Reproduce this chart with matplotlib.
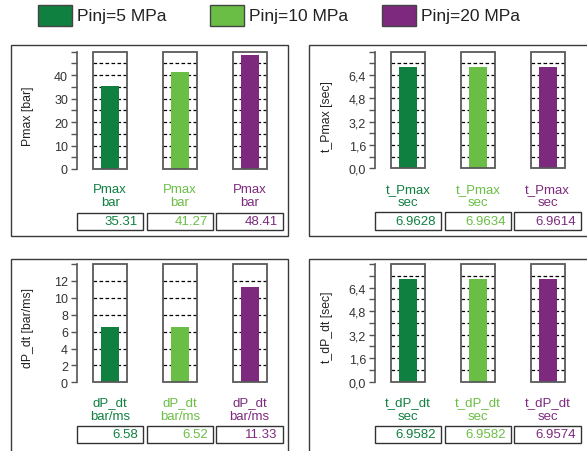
import matplotlib.pyplot as plt
import numpy as np
from matplotlib.patches import Rectangle
from matplotlib.ticker import MultipleLocator, FuncFormatter
import matplotlib.transforms as mtransforms

plt.rcParams['font.family'] = ['Liberation Sans', 'DejaVu Sans']

series = ['Pinj=5 MPa', 'Pinj=10 MPa', 'Pinj=20 MPa']
colors = ['#108040', '#6bbe45', '#7d2a7e']

names = ['Pmax', 't_Pmax', 'dP_dt', 't_dP_dt']
units = ['bar', 'sec', 'bar/ms', 'sec']
pmax = [35.31, 41.27, 48.41]
t_pmax = [6.9628, 6.9634, 6.9614]
dp_dt = [6.58, 6.52, 11.33]
t_dp_dt = [6.9582, 6.9582, 6.9574]
values = [pmax, t_pmax, dp_dt, t_dp_dt]
val_fmt = ['{:.2f}', '{:.4f}', '{:.2f}', '{:.4f}']

# y axis setup: top, major step, minor step
ytop = [50, 8, 14, 8]
ymajor = [10, 1.6, 2, 1.6]
yminor = [5, 0.8, None, 0.8]

W, H = 587, 452
fig = plt.figure(figsize=(W / 100, H / 100), dpi=100)


def fx(px):
    return px / W


def fy(py):
    return 1 - py / H


# panel frames (px): x0, y0, x1, y1
frames = [(11, 46, 288, 237), (309, 46, 590, 237), (11, 260, 288, 455), (309, 260, 590, 455)]
for x0, y0, x1, y1 in frames:
    fig.add_artist(Rectangle((fx(x0), fy(y1)), fx(x1 - x0), fy(y0) - fy(y1),
                             transform=fig.transFigure, fill=False, ec='#3a3a3a', lw=1.0))

# axes rectangles (px): left, top, right, bottom
axes_px = [(77, 52.7, 272, 170), (375, 52.7, 570, 169.3), (77, 265, 272, 383.3), (375, 265, 570, 382.7)]
label_y = [(190, 203.3), (190, 203.3), (403.3, 416.7), (403.3, 416.7)]
vbox_y = [(214, 231), (213, 231), (427, 444), (427, 444)]
ylabel_pos = [(28, 116.7), (326.7, 116.7), (28, 328), (326.7, 327)]

x = np.arange(3)
box_w = 0.486
bar_w = 0.262

for k in range(4):
    l, t, r, b = axes_px[k]
    ax = fig.add_axes([fx(l), fy(b), fx(r - l), fy(t) - fy(b)])
    ax.patch.set_alpha(0)
    ax.set_xlim(-0.475, 2.32)
    ax.set_ylim(0, ytop[k])
    for s in ['top', 'right', 'bottom']:
        ax.spines[s].set_visible(False)
    ax.spines['left'].set_color('#555555')
    ax.spines['left'].set_linewidth(1.2)
    ax.set_xticks([])

    major = np.arange(0, ytop[k] + 1e-6, ymajor[k])
    ax.yaxis.set_major_locator(MultipleLocator(ymajor[k]))
    if yminor[k]:
        ax.yaxis.set_minor_locator(MultipleLocator(yminor[k]))
    top = ytop[k]
    if k in (1, 3):
        fmt = FuncFormatter(lambda v, p, top=top: '' if abs(v - top) < 1e-6 else ('%.1f' % v).replace('.', ','))
    else:
        fmt = FuncFormatter(lambda v, p, top=top: '' if abs(v - top) < 1e-6 else '%d' % round(v))
    ax.yaxis.set_major_formatter(fmt)
    ax.tick_params(axis='y', which='both', length=4.5, width=1.0, color='#555555',
                   labelsize=9, labelcolor='#333333', pad=2)

    levels = list(major)
    if yminor[k]:
        levels = list(np.arange(0, ytop[k] + 1e-6, yminor[k]))
    levels = [v for v in levels if 1e-6 < v < ytop[k] - 1e-6]

    for i in range(3):
        ax.hlines(levels, x[i] - box_w / 2, x[i] + box_w / 2, colors='black',
                  linestyles=(0, (2.9, 1.9)), lw=0.9, zorder=1)
        ax.add_patch(Rectangle((x[i] - box_w / 2, 0), box_w, ytop[k], fill=False,
                               ec='#595959', lw=1.3, zorder=3, clip_on=False))
    ax.bar(x, values[k], width=bar_w, color=colors, zorder=2)

    tr = mtransforms.blended_transform_factory(ax.transData, fig.transFigure)
    y0, y1 = vbox_y[k]
    ly1, ly2 = label_y[k]
    for i in range(3):
        fig.text(x[i], fy(ly1), names[k], transform=tr, color=colors[i],
                 fontsize=9.5, ha='center', va='center')
        fig.text(x[i], fy(ly2), units[k], transform=tr, color=colors[i],
                 fontsize=9.5, ha='center', va='center')
        fig.add_artist(Rectangle((x[i] - 0.476, fy(y1)), 0.952, fy(y0) - fy(y1),
                                 transform=tr, fill=False, ec='#333333', lw=1.0))
        fig.text(x[i] + 0.476 - 0.075, fy((y0 + y1) / 2), val_fmt[k].format(values[k][i]),
                 transform=tr, color=colors[i], fontsize=9.5, ha='right', va='center')

    lx, ly = ylabel_pos[k]
    fig.text(fx(lx), fy(ly), names[k] + ' [' + units[k] + ']', rotation=90,
             fontsize=8.8, color='#222222', ha='center', va='center')

# legend
for i in range(3):
    x0 = 38 + 172 * i
    fig.add_artist(Rectangle((fx(x0), fy(27)), fx(34), fy(6) - fy(27),
                             transform=fig.transFigure, fc=colors[i], ec='#444444', lw=1.0))
    fig.text(fx(x0 + 39), fy(16.5), series[i], fontsize=12.5, color='#222222',
             ha='left', va='center')

fig.savefig('out.png', dpi=100)
